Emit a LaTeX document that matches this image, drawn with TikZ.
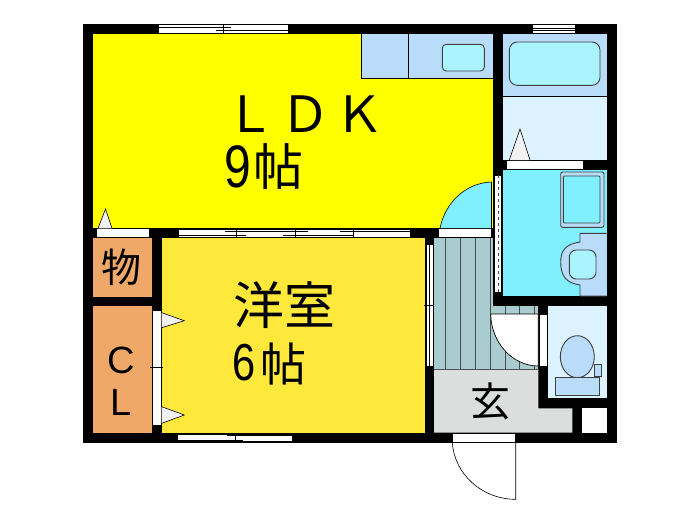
\documentclass[tikz,border=0pt]{standalone}
\usepackage{graphicx}
\usepackage{fontspec}
\setmainfont{Liberation Sans}
\newfontfamily\cjk{Noto Sans CJK JP}
\definecolor{ldk}{HTML}{FFFF00}
\definecolor{yo}{HTML}{FFE83C}
\definecolor{orng}{HTML}{F0A868}
\definecolor{cyn}{HTML}{80F0FF}
\definecolor{lblue}{HTML}{B8DCFA}
\definecolor{pale}{HTML}{DCF2FF}
\definecolor{aqua}{HTML}{AAF4FF}
\definecolor{hall}{HTML}{A8CCD0}
\definecolor{entry}{HTML}{DCDEDE}
\tikzset{
  wall/.style={fill=black,draw=none},
  opening/.style={fill=white,draw=black,line width=.5pt},
  fixture/.style={draw=black!75,line width=.9pt},
  thin/.style={draw=black,line width=.6pt},
  label/.style={inner sep=0pt,text=black},
}
\begin{document}
\begin{tikzpicture}[x=1pt,y=-1pt]
\useasboundingbox (0,0) rectangle (700,525);
\fill[white] (0,0) rectangle (700,525);
% outer walls silhouette
\fill[black] (83,24) rectangle (617,442.7);
% rooms
\fill[ldk] (93.3,33.5) rectangle (492.7,228.3);
\fill[yo] (161.7,238.3) rectangle (425,433);
\fill[orng] (93.3,238.3) rectangle (152,296.7);
\fill[orng] (93.3,306) rectangle (152,433.3);
\fill[hall] (434,238.3) rectangle (493.3,369);
\fill[hall] (490,306) rectangle (538.3,369);
\fill[entry] (434,369) -- (538.3,369) -- (538.3,408.3) -- (572.3,408.3) -- (572.3,432.7) -- (434,432.7) -- cycle;
\fill[lblue] (502.7,33.5) rectangle (606.7,96.7);
\fill[pale] (502.7,96.7) rectangle (606.7,160);
\draw[thin] (502.7,96.7) -- (606.7,96.7);
\fill[cyn] (502.7,170) rectangle (606.7,296);
\fill[pale] (548.3,306) rectangle (606.7,398.3);
\fill[white] (581.7,408.3) rectangle (606.7,432.7);
% hall stripes
\foreach \sx in {445,460,475,490} \draw[thin,draw=black!70] (\sx,238.3) -- (\sx,369);
\foreach \sx in {505,519,534} \draw[thin,draw=black!70] (\sx,306) -- (\sx,369);
\draw[thin,draw=black!70] (434,369) -- (538.3,369);
% hall door
\fill[white,draw=black,line width=.7pt] (490.7,314) .. controls (491,342) and (512,366) .. (538.3,366) -- (538.3,314) -- cycle;
\fill[wall] (538.3,306) rectangle (548.3,314);
\fill[wall] (493.3,292.7) rectangle (502.7,306);
\draw[opening] (539.3,314) rectangle (547.3,366);
% kitchen
\fill[lblue] (361.3,33.5) rectangle (492.7,78.3);
\draw[thin] (361.3,33.5) -- (361.3,78.3) -- (492.7,78.3);
\draw[thin] (408.3,33.5) -- (408.3,78.3);
\draw[fixture,fill=aqua,rounded corners=4pt] (442.3,44.3) rectangle (484.3,71);
% bath tub
\draw[fixture,fill=aqua,rounded corners=8pt] (509.3,42) rectangle (600,85.3);
% bath window
\draw[opening] (532.3,24.5) rectangle (575.7,33);
\draw[thin] (532.3,28) -- (575.7,28);
\draw[thin] (532.3,30) -- (575.7,30);
% bath door
\fill[white] (507.3,161) rectangle (583.3,169);
\draw[thin,fill=white!95!black] (509.3,160) -- (520,129) -- (530,160);
% washer pan
\draw[fixture,fill=lblue,rounded corners=2pt] (560.7,172) rectangle (604,227.3);
\draw[fixture,fill=cyn,rounded corners=1pt] (563.3,176) rectangle (600,223);
% wash basin
\draw[fixture,fill=lblue] (606.7,233.3) -- (580,233.3) -- (580,242) .. controls (566,244) and (560.7,250) .. (560.7,262)
  .. controls (560.7,276) and (566,283) .. (580,285) -- (580,296) -- (606.7,296);
\draw[fixture,fill=aqua,rounded corners=7pt] (569.3,250) rectangle (596,279);
% LDK door
\draw[thin,fill=cyn] (440,228.3) .. controls (445,203) and (465,183) .. (491.5,182) -- (491.5,228.3) -- cycle;
\fill[white] (439.3,229) rectangle (490.7,237);
% vertical sliding door
\draw[opening] (494,175) rectangle (501.7,292.7);
\draw[thin,dashed,draw=black!70] (498,175) -- (498,292.7);
% windows
\draw[opening] (158,24.5) rectangle (288,33);
\draw[thin] (158,27) -- (231,27);
\draw[thin] (216,30) -- (288,30);
\draw[thin] (223,24.5) -- (223,33);
% western top window
\draw[opening] (178,229) rectangle (410.7,237.3);
\draw[thin] (178,235) -- (246,235);
\draw[thin] (225,231) -- (295,231);
\draw[thin] (283,235) -- (353,235);
\draw[thin] (295,231) -- (308,231);
\draw[thin] (340,231) -- (410.7,231);
\foreach \sx in {236.7,295,353}{\draw[thin] (\sx,229) -- (\sx,237.3);}
% storage door
\fill[white] (96.7,229) rectangle (149,237);
\draw[thin,fill=white!95!black] (98,228.3) -- (105.5,209) -- (112,228.3);
% CL doors
\draw[opening] (152.7,310.7) rectangle (161.7,425.7);
\draw[thin] (150,367.7) -- (163,367.7);
\draw[thin,fill=white!95!black] (161.7,312.7) -- (184.3,320.7) -- (161.7,327.7);
\draw[thin,fill=white!95!black] (161.7,406.7) -- (184.3,415) -- (161.7,423.3);
% bottom window
\draw[opening] (177.3,434) rectangle (292.7,441.5);
\draw[thin] (177.3,440) -- (243,440);
\draw[thin] (227,435.5) -- (292.7,435.5);
\draw[thin] (235.5,434) -- (235.5,441.5);
% right window of western room
\draw[opening] (426,244) rectangle (433.5,366.7);
\draw[thin] (429.7,244) -- (429.7,366.7);
\draw[thin] (424,305) -- (434,305);
% toilet
\draw[fixture,fill=lblue] (577.3,356.7) ellipse [x radius=17,y radius=21];
\draw[fixture,fill=lblue] (594.3,364) rectangle (601.7,376);
\draw[fixture,fill=lblue] (555.7,377.3) rectangle (599,395);
% entrance
\draw[opening] (452.3,433.5) rectangle (515.7,442);
\draw[thin] (452.3,442) .. controls (454,474) and (482,499.3) .. (515.7,499.3) -- (515.7,442);
% labels
\node[label,font=\fontsize{50}{50}\selectfont] (tldk) at (305,114) {\cjk Ｌ\hspace{0.1em}Ｄ\hspace{0.07em}Ｋ};
\node[label,anchor=base east] (t9) at (251,187) {\fontsize{60}{60}\selectfont\scalebox{.8}[1]{9}};
\node[label,font=\fontsize{50}{50}\selectfont] (t9b) at (278.5,167) {\cjk 帖};
\node[label,font=\fontsize{51}{51}\selectfont] (tyo) at (284,305) {\cjk 洋室};
\node[label,anchor=base east] (t6) at (256,380) {\fontsize{52}{52}\selectfont\scalebox{.8}[1]{6}};
\node[label,font=\fontsize{46}{46}\selectfont] (t6b) at (283,364) {\cjk 帖};
\node[label,font=\fontsize{40}{40}\selectfont] (tmono) at (121.5,267) {\cjk 物};
\node[label,font=\fontsize{38}{38}\selectfont] (tc) at (121.5,360.5) {C};
\node[label,font=\fontsize{38}{38}\selectfont] (tl) at (121.5,402) {L};
\node[label,font=\fontsize{40}{40}\selectfont] (tgen) at (490,401) {\cjk 玄};
\end{tikzpicture}
\end{document}
